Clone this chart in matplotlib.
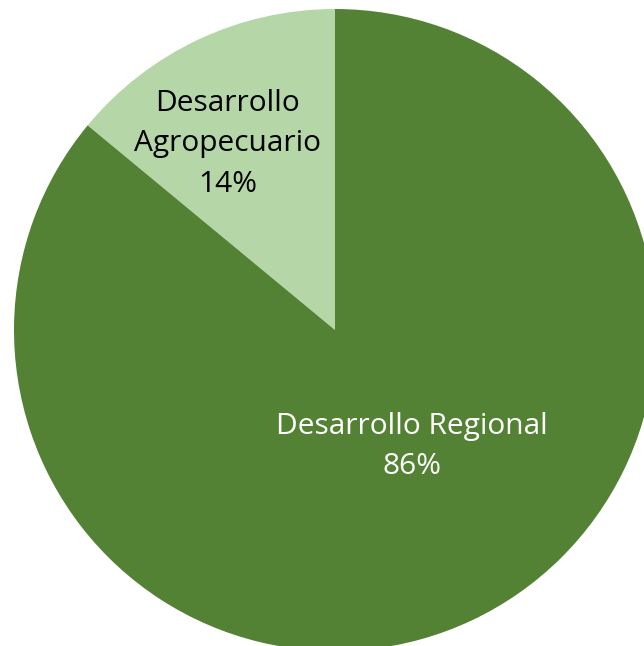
import matplotlib
matplotlib.use("Agg")
import matplotlib.pyplot as plt
import numpy as np

categories = ["Desarrollo\nAgropecuario", "Desarrollo Regional"]
values = [14, 86]
colors = ["#B5D7A8", "#548235"]
text_colors = ["#000000", "#FFFFFF"]

W, H = 644, 646
fig = plt.figure(figsize=(W / 100, H / 100), dpi=100)
ax = fig.add_axes([0, 0, 1, 1])
cx, cy, R = 335, 330, 321

wedges, _ = ax.pie(values, colors=colors, startangle=90, counterclock=True,
                   radius=1, center=(0, 0), frame=True,
                   wedgeprops=dict(linewidth=0))
ax.set_aspect("auto")
ax.set_xlim(-cx / R, (W - cx) / R)
ax.set_ylim(-(H - cy) / R, cy / R)
ax.axis("off")

# label placement (distance, angle in degrees)
label_pos = [(0.67, 120.0), (0.435, -56.5)]
for cat, v, tc, (d, a) in zip(categories, values, text_colors, label_pos):
    x = d * np.cos(np.radians(a))
    y = d * np.sin(np.radians(a))
    ax.text(x, y, f"{cat}\n{v}%", ha="center", va="center", color=tc,
            fontsize=21.5, family="Open Sans", linespacing=1.52)

fig.savefig("out.png", dpi=100, facecolor="white")
